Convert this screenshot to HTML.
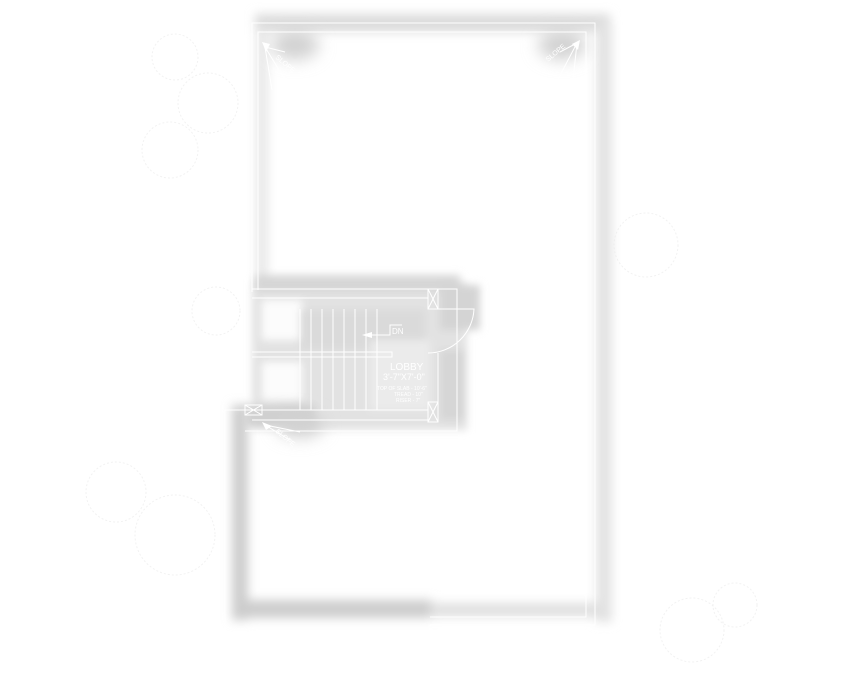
<!DOCTYPE html>
<html><head><meta charset="utf-8"><style>
html,body{margin:0;padding:0;background:#fff;}
svg{display:block;}
text{font-family:"Liberation Sans",sans-serif;fill:#fff;}
</style></head><body>
<svg width="844" height="693" viewBox="0 0 844 693" xmlns="http://www.w3.org/2000/svg">
<defs>
<filter id="b" x="-20%" y="-20%" width="140%" height="140%"><feGaussianBlur stdDeviation="5"/></filter>
<filter id="b2" x="-50%" y="-50%" width="200%" height="200%"><feGaussianBlur stdDeviation="8"/></filter>
<filter id="b3" x="-30%" y="-30%" width="160%" height="160%"><feGaussianBlur stdDeviation="4"/></filter>
</defs>
<rect width="844" height="693" fill="#fff"/>
<!-- trees -->
<g fill="none" stroke="#f2f2f2" stroke-width="1" stroke-dasharray="2 2">
<circle cx="175" cy="57" r="23"/><circle cx="208" cy="103" r="30"/><circle cx="170" cy="150" r="28"/>
<circle cx="646" cy="245" r="32"/><circle cx="216" cy="311" r="24"/>
<circle cx="116" cy="492" r="30"/><circle cx="175" cy="535" r="40"/>
<circle cx="692" cy="630" r="32"/><circle cx="735" cy="605" r="22"/>
</g>
<!-- shadows -->
<g filter="url(#b)" fill="#dcdcdc">
<rect x="255" y="14" width="355" height="18"/>
<rect x="596" y="22" width="16" height="600" fill="#e3e3e3"/>
<rect x="256" y="28" width="12" height="260" fill="#e8e8e8"/>
<rect x="232" y="405" width="16" height="215" fill="#cdcdcd"/>
<rect x="232" y="600" width="200" height="18" fill="#cdcdcd"/>
<rect x="430" y="603" width="170" height="14" fill="#e0e0e0"/>
</g>
<!-- stair area -->
<g filter="url(#b3)">
<rect x="252" y="282" width="215" height="148" fill="#e2e2e2"/>
<rect x="255" y="275" width="205" height="16" fill="#d6d6d6"/>
<rect x="262" y="300" width="40" height="40" fill="#fcfcfc"/>
<rect x="262" y="362" width="40" height="38" fill="#fcfcfc"/>
<rect x="300" y="310" width="125" height="40" fill="#dadada"/>
<rect x="370" y="340" width="60" height="70" fill="#ebebeb"/>
<rect x="440" y="285" width="40" height="45" fill="#d4d4d4"/>
<rect x="440" y="350" width="25" height="70" fill="#d6d6d6"/>
<rect x="245" y="405" width="70" height="22" fill="#d0d0d0"/>
</g>
<g filter="url(#b2)" fill="#d2d2d2">
<ellipse cx="295" cy="45" rx="24" ry="15"/><ellipse cx="562" cy="45" rx="24" ry="15"/>
<ellipse cx="300" cy="425" rx="24" ry="13"/>
</g>
<!-- white lines -->
<g fill="none" stroke="#fff" stroke-width="1">
<path d="M252 292 V23 H595 V625 H430 V632 H225 V410 H252"/>
<path d="M258 290 V32 H586 V617 H430"/>
<path d="M252 289 H457 V431 H245 M252 298 H428 M252 420 H428 M252 410 H428"/>
<rect x="428" y="289" width="10" height="20"/><path d="M428 289 L438 309 M438 289 L428 309"/>
<rect x="428" y="402" width="10" height="20"/><path d="M428 402 L438 422 M438 402 L428 422"/>
<rect x="245" y="405" width="17" height="10"/><path d="M245 405 L262 415 M262 405 L245 415"/>
<path d="M428 309 H474 A46 46 0 0 1 428 353"/>
<path d="M438 353 V402"/>
<path d="M252 352 H392 V357 H252"/>
<path d="M300 309 V410 M311 309 V410 M322 309 V410 M333 309 V410 M344 309 V410 M355 309 V410 M366 309 V410 M377 309 V410"/>
<path d="M365 335 H390 V325 H402"/>
<path d="M265 47 L272 90 M265 47 L290 88 M265 47 L285 52"/>
<path d="M577 43 L572 90 M577 43 L555 85 M577 43 L560 52"/>
<path d="M265 425 L290 440 M265 425 L300 432"/>
</g>
<polygon points="262,42 270,44 266,52" fill="#fff"/>
<polygon points="580,40 572,44 578,50" fill="#fff"/>
<polygon points="262,422 272,426 266,430" fill="#fff"/>
<polygon points="362,335 372,332 372,338" fill="#fff"/>
<text x="392" y="334" font-size="8">DN</text>
<text x="390" y="370" font-size="10">LOBBY</text>
<text x="383" y="380" font-size="9">3'-7"X7'-0"</text>
<text x="377" y="390" font-size="5">TOP OF SLAB - 10'-6"</text>
<text x="394" y="396" font-size="5">TREAD - 10"</text>
<text x="396" y="402" font-size="5">RISER - 7"</text>
<text x="275" y="58" font-size="7" transform="rotate(40 275 58)">SLOPE</text>
<text x="548" y="62" font-size="7" transform="rotate(-40 548 62)">SLOPE</text>
<text x="275" y="432" font-size="7" transform="rotate(40 275 432)">SLOPE</text>
</svg>
</body></html>
